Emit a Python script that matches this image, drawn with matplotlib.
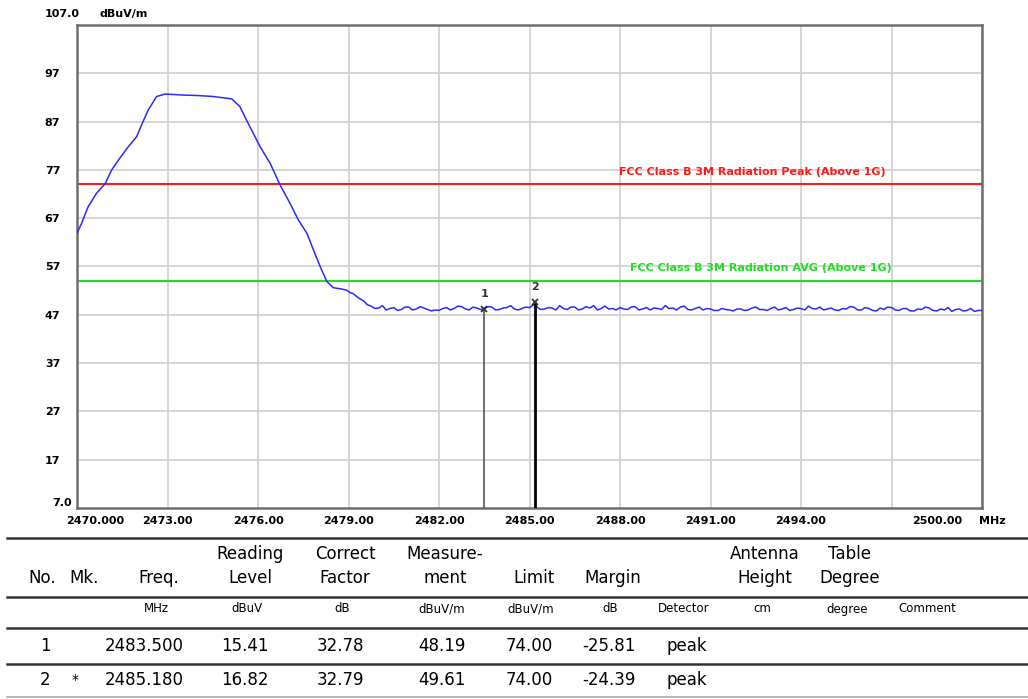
import matplotlib
matplotlib.use("Agg")
import matplotlib.pyplot as plt
from matplotlib.lines import Line2D

# sweep trace (MHz, dBuV/m)
trace_freq = [
    2470.00, 2470.15, 2470.37, 2470.65, 2470.93, 2471.15, 2471.37, 2471.70,
    2471.98, 2472.14, 2472.36, 2472.64, 2472.92, 2473.20, 2473.52, 2474.00,
    2474.51, 2475.13, 2475.40, 2475.62, 2475.84, 2476.07, 2476.40, 2476.73,
    2477.06, 2477.34, 2477.62, 2477.84, 2478.06, 2478.28, 2478.50, 2478.72,
    2478.94, 2479.05, 2479.15, 2479.27, 2479.38, 2479.50, 2479.62,
    2479.750, 2479.875,
    2480.000, 2480.125, 2480.250, 2480.375, 2480.500, 2480.625, 2480.750, 2480.875,
    2481.000, 2481.125, 2481.250, 2481.375, 2481.500, 2481.625, 2481.750, 2481.875,
    2482.000, 2482.125, 2482.250, 2482.375, 2482.500, 2482.625, 2482.750, 2482.875,
    2483.000, 2483.125, 2483.250, 2483.375, 2483.500, 2483.625, 2483.750, 2483.875,
    2484.000, 2484.125, 2484.250, 2484.375, 2484.500, 2484.625, 2484.750, 2484.875,
    2485.000, 2485.125, 2485.180, 2485.250, 2485.375, 2485.500, 2485.625, 2485.750,
    2485.875,
    2486.000, 2486.125, 2486.250, 2486.375, 2486.500, 2486.625, 2486.750, 2486.875,
    2487.000, 2487.125, 2487.250, 2487.375, 2487.500, 2487.625, 2487.750, 2487.875,
    2488.000, 2488.125, 2488.250, 2488.375, 2488.500, 2488.625, 2488.750, 2488.875,
    2489.000, 2489.125, 2489.250, 2489.375, 2489.500, 2489.625, 2489.750, 2489.875,
    2490.000, 2490.125, 2490.250, 2490.375, 2490.500, 2490.625, 2490.750, 2490.875,
    2491.000, 2491.125, 2491.250, 2491.375, 2491.500, 2491.625, 2491.750, 2491.875,
    2492.000, 2492.125, 2492.250, 2492.375, 2492.500, 2492.625, 2492.750, 2492.875,
    2493.000, 2493.125, 2493.250, 2493.375, 2493.500, 2493.625, 2493.750, 2493.875,
    2494.000, 2494.125, 2494.250, 2494.375, 2494.500, 2494.625, 2494.750, 2494.875,
    2495.000, 2495.125, 2495.250, 2495.375, 2495.500, 2495.625, 2495.750, 2495.875,
    2496.000, 2496.125, 2496.250, 2496.375, 2496.500, 2496.625, 2496.750, 2496.875,
    2497.000, 2497.125, 2497.250, 2497.375, 2497.500, 2497.625, 2497.750, 2497.875,
    2498.000, 2498.125, 2498.250, 2498.375, 2498.500, 2498.625, 2498.750, 2498.875,
    2499.000, 2499.125, 2499.250, 2499.375, 2499.500, 2499.625, 2499.750, 2499.875,
    2500.000,
]
trace_level = [
    63.9, 65.9, 69.4, 72.2, 74.1, 77.0, 79.0, 81.8,
    83.9, 86.3, 89.4, 92.2, 92.7, 92.6, 92.5, 92.4,
    92.2, 91.7, 90.1, 87.3, 84.6, 81.8, 78.4, 73.9,
    70.1, 66.6, 63.9, 60.4, 57.0, 53.9, 52.6, 52.4,
    52.1, 51.6, 51.4, 50.8, 50.3, 49.9, 49.1,
    48.8, 48.3,
    48.4, 48.9, 48.0, 48.3, 48.5, 47.9, 48.1, 48.6,
    48.6, 48.0, 48.2, 48.7, 48.4, 48.1, 47.8, 48.0,
    47.9, 48.3, 48.5, 48.0, 48.3, 48.8, 48.7, 48.2,
    48.0, 48.6, 48.4, 48.1, 48.19, 48.7, 48.6, 48.0,
    48.1, 48.4, 48.5, 48.9, 48.2, 48.0, 48.3, 48.6,
    48.5, 49.0, 49.61, 48.6, 48.1, 48.2, 48.5, 48.4,
    48.0,
    48.9, 48.3, 48.1, 48.6, 48.6, 48.0, 48.2, 48.7,
    48.4, 48.9, 48.0, 48.3, 48.8, 48.2, 48.3, 48.0,
    48.5, 48.2, 48.1, 48.6, 48.7, 48.0, 48.2, 48.5,
    48.0, 48.4, 48.3, 48.1, 48.9, 48.3, 48.4, 48.0,
    48.6, 48.8, 48.1, 48.0, 48.3, 48.6, 48.0, 48.3,
    48.2, 47.9, 47.9, 48.3, 48.1, 48.0, 47.8, 48.2,
    48.2, 47.9, 48.0, 48.4, 48.6, 48.1, 48.1, 47.9,
    48.3, 48.6, 48.0, 48.2, 48.5, 47.9, 48.1, 48.4,
    48.3, 48.0, 48.8, 48.3, 48.2, 48.6, 48.0, 48.2,
    48.4, 48.0, 47.9, 48.3, 48.2, 48.7, 48.6, 48.0,
    48.0, 48.5, 48.3, 47.9, 47.8, 48.4, 48.1, 48.6,
    48.5, 48.0, 47.9, 48.3, 48.3, 47.8, 47.8, 48.2,
    48.1, 48.6, 48.4, 47.9, 47.8, 48.2, 48.0, 48.5,
    47.7, 48.1, 48.2, 47.8, 47.9, 48.3, 47.7, 47.9,
    47.9,
]

limit_peak = 74.0
limit_avg = 54.0
limit_peak_label = "FCC Class B 3M Radiation Peak (Above 1G)"
limit_avg_label = "FCC Class B 3M Radiation AVG (Above 1G)"

marker_no = ["1", "2"]
marker_freq = [2483.5, 2485.18]
marker_level = [48.19, 49.61]

x_ticks = [2470, 2473, 2476, 2479, 2482, 2485, 2488, 2491, 2494, 2497, 2500]
x_labels = ["", "2473.00", "2476.00", "2479.00", "2482.00", "2485.00",
            "2488.00", "2491.00", "2494.00", "", ""]
y_ticks = [17, 27, 37, 47, 57, 67, 77, 87, 97]

# result table
col_head1 = ["", "", "", "Reading", "Correct", "Measure-", "", "", "",
             "Antenna", "Table", ""]
col_head2 = ["No.", "Mk.", "Freq.", "Level", "Factor", "ment", "Limit",
             "Margin", "", "Height", "Degree", ""]
col_units = ["", "", "MHz", "dBuV", "dB", "dBuV/m", "dBuV/m", "dB",
             "Detector", "cm", "degree", "Comment"]
row_no = ["1", "2"]
row_mk = ["", "*"]
row_freq = ["2483.500", "2485.180"]
row_reading = ["15.41", "16.82"]
row_factor = ["32.78", "32.79"]
row_measure = ["48.19", "49.61"]
row_limit = ["74.00", "74.00"]
row_margin = ["-25.81", "-24.39"]
row_detector = ["peak", "peak"]

W, H = 1028, 699
fig = plt.figure(figsize=(W / 100, H / 100), dpi=100)
ax = fig.add_axes([77 / W, 1 - 508 / H, 905 / W, 483 / H])

ax.plot(trace_freq, trace_level, color="#2a2aff", lw=1.1, zorder=3)
ax.axhline(limit_peak, color="#ff1a1a", lw=1.5, zorder=2)
ax.axhline(limit_avg, color="#22dd22", lw=1.5, zorder=2)
ax.text(2496.8, limit_peak + 1.6, limit_peak_label, color="#ff1a1a",
        fontsize=8, fontweight="bold", ha="right", va="bottom")
ax.text(2497.0, limit_avg + 1.6, limit_avg_label, color="#22dd22",
        fontsize=8, fontweight="bold", ha="right", va="bottom")

mk_colors = ["#555555", "black"]
mk_widths = [1.2, 2.0]
for no, f, lv, c, w in zip(marker_no, marker_freq, marker_level,
                           mk_colors, mk_widths):
    ax.vlines(f, 7, lv, color=c, lw=w, zorder=4)
    ax.plot(f, lv, marker="x", ms=5, mew=1.3, color="#333333", zorder=5)
    ax.annotate(no, (f, lv), xytext=(0, 7), textcoords="offset points",
                ha="center", va="bottom", fontsize=8, fontweight="bold",
                color="#333333")

ax.set_xlim(2470, 2500)
ax.set_ylim(7, 107)
ax.set_xticks(x_ticks)
ax.set_xticklabels(x_labels)
ax.set_yticks(y_ticks)
ax.set_yticklabels([str(v) for v in y_ticks])
ax.tick_params(axis="x", length=0, pad=6, labelsize=8)
ax.tick_params(axis="y", length=0, pad=12, labelsize=8)
for lab in ax.get_xticklabels() + ax.get_yticklabels():
    lab.set_fontweight("bold")
ax.grid(True, color="#d2d2d2", lw=1.3)
ax.set_axisbelow(True)
for sp in ax.spines.values():
    sp.set_color("#6e6e6e")
    sp.set_linewidth(1.8)

ax.text(-0.0055, 8.0, "7.0", transform=ax.get_yaxis_transform(),
        ha="right", va="center", fontsize=8, fontweight="bold")
ax.text(0.0033, 109.3, "107.0", transform=ax.get_yaxis_transform(),
        ha="right", va="center", fontsize=8, fontweight="bold")
ax.text(0.0254, 109.3, "dBuV/m", transform=ax.get_yaxis_transform(),
        ha="left", va="center", fontsize=8, fontweight="bold")
ax.text(2470.6, -0.027, "2470.000", transform=ax.get_xaxis_transform(),
        ha="center", va="center", fontsize=8, fontweight="bold")
ax.text(2498.5, -0.027, "2500.00", transform=ax.get_xaxis_transform(),
        ha="center", va="center", fontsize=8, fontweight="bold")
ax.text(2500.35, -0.027, "MHz", transform=ax.get_xaxis_transform(),
        ha="center", va="center", fontsize=8, fontweight="bold")


def px(x, y):
    return x / W, 1 - y / H


def hline(y, color="#333333", lw=1.8):
    fig.add_artist(Line2D([7 / W, 1.0], [1 - y / H] * 2, color=color, lw=lw))


for y, c, w in [(538, "#333333", 1.8), (597, "#333333", 1.8),
                (628, "#333333", 1.8), (664, "#333333", 1.8),
                (697, "#aaaaaa", 1.2)]:
    hline(y, c, w)

col_x = [42, 84, 159, 250, 345, 445, 534, 613, 687, 765, 850, 930]
for x, t1, t2, u in zip(col_x, col_head1, col_head2, col_units):
    if t1:
        fig.text(*px(x, 554), t1, ha="center", va="center", fontsize=12)
    if t2:
        fig.text(*px(x, 578), t2, ha="center", va="center", fontsize=12)
    if u:
        fig.text(*px(x - 3, 609), u, ha="center", va="center", fontsize=8.5)

row_y = [646, 680]
for i, y in enumerate(row_y):
    fig.text(*px(45, y), row_no[i], ha="center", va="center", fontsize=12)
    fig.text(*px(75, y), row_mk[i], ha="center", va="center", fontsize=10)
    fig.text(*px(184, y), row_freq[i], ha="right", va="center", fontsize=12)
    fig.text(*px(245, y), row_reading[i], ha="center", va="center", fontsize=12)
    fig.text(*px(340, y), row_factor[i], ha="center", va="center", fontsize=12)
    fig.text(*px(442, y), row_measure[i], ha="center", va="center", fontsize=12)
    fig.text(*px(529, y), row_limit[i], ha="center", va="center", fontsize=12)
    fig.text(*px(609, y), row_margin[i], ha="center", va="center", fontsize=12)
    fig.text(*px(667, y), row_detector[i], ha="left", va="center", fontsize=12)

fig.savefig("out.png", dpi=100)
